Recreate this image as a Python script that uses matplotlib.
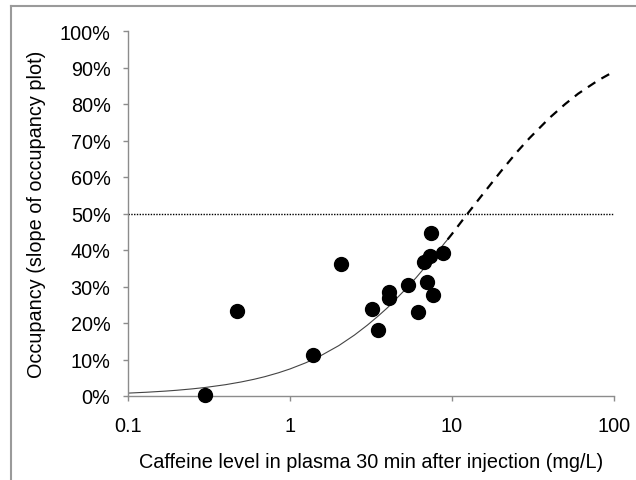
import matplotlib
matplotlib.use("Agg")
import matplotlib.pyplot as plt
from matplotlib.lines import Line2D
from matplotlib.ticker import FixedLocator, FuncFormatter, NullLocator

plt.rcParams["font.family"] = ["Liberation Sans", "DejaVu Sans"]

# measured subjects: caffeine level (mg/L) vs occupancy (%)
caffeine = [0.30, 0.47, 1.39, 2.05, 3.22, 3.49, 4.08, 4.10, 5.38, 6.17,
            6.98, 7.60, 6.75, 7.31, 8.84, 7.42]
occupancy = [0.4, 23.2, 11.2, 36.2, 23.9, 18.2, 28.4, 26.9, 30.5, 23.1,
             31.1, 27.6, 36.6, 38.3, 39.2, 44.6]

# fitted curve (solid within data range, dashed beyond)
fit_x_solid = [0.1, 0.13, 0.17, 0.2, 0.25, 0.3, 0.4, 0.5, 0.6, 0.7, 0.85, 1, 1.25,
               1.5, 2, 2.5, 3, 3.5, 4, 5, 6, 7, 8, 9, 9.4]
fit_y_solid = [0.79, 1.03, 1.34, 1.57, 1.96, 2.34, 3.10, 3.85, 4.58, 5.30, 6.37,
               7.41, 9.09, 10.7, 13.8, 16.7, 19.4, 21.9, 24.2, 28.6, 32.4, 35.9,
               39.0, 41.9, 42.9]
fit_x_dash = [9.4, 10, 12, 15, 20, 25, 30, 40, 50, 60, 70, 80, 100]
fit_y_dash = [42.9, 44.4, 49.0, 54.5, 61.5, 66.7, 70.6, 76.2, 80.0, 82.8,
              84.8, 86.5, 88.9]

half_level = 50
x_ticks = [0.1, 1, 10, 100]
x_tick_labels = ["0.1", "1", "10", "100"]
y_ticks = list(range(0, 101, 10))

fig = plt.figure(figsize=(6.36, 4.81), dpi=100)
ax = fig.add_axes([128 / 636, 1 - 397 / 481, (614 - 128) / 636, (397 - 32) / 481])

ax.plot(fit_x_solid, fit_y_solid, color="#444444", lw=0.8, zorder=2)
ax.plot(fit_x_dash, fit_y_dash, color="black", lw=1.6, dashes=(4, 3.2), zorder=2)
ax.plot([x_ticks[0], x_ticks[-1]], [half_level, half_level], color="black",
        lw=1.0, ls=(0, (1, 1)), zorder=1)
ax.scatter(caffeine, occupancy, s=100, color="black", zorder=3, clip_on=False)

ax.set_xscale("log")
ax.set_xlim(0.1, 100)
ax.set_ylim(0, 100)
ax.xaxis.set_major_locator(FixedLocator(x_ticks))
ax.xaxis.set_minor_locator(NullLocator())
ax.xaxis.set_major_formatter(FuncFormatter(lambda v, p: x_tick_labels[x_ticks.index(v)] if v in x_ticks else ""))
ax.yaxis.set_major_locator(FixedLocator(y_ticks))
ax.yaxis.set_major_formatter(FuncFormatter(lambda v, p: f"{int(round(v))}%"))

for side in ("top", "right"):
    ax.spines[side].set_visible(False)
for side in ("left", "bottom"):
    ax.spines[side].set_color("#8c8c8c")
    ax.spines[side].set_linewidth(1.0)
ax.tick_params(axis="both", direction="out", length=3.6, width=1.0, color="#8c8c8c",
               labelsize=14.3, labelcolor="black")
ax.tick_params(axis="x", pad=11)
ax.tick_params(axis="y", pad=9)

ax.set_xlabel("Caffeine level in plasma 30 min after injection (mg/L)", fontsize=14.3, labelpad=12)
ax.set_ylabel("Occupancy (slope of occupancy plot)", fontsize=14.3, labelpad=9.5)

# outer chart-area border (left and top only visible)
fig.add_artist(Line2D([11 / 636, 11 / 636], [0, 1 - 7 / 481], transform=fig.transFigure,
                      color="#9a9a9a", lw=1.5))
fig.add_artist(Line2D([11 / 636, 1], [1 - 7 / 481, 1 - 7 / 481], transform=fig.transFigure,
                      color="#9a9a9a", lw=1.5))

fig.savefig("out.png", dpi=100)
